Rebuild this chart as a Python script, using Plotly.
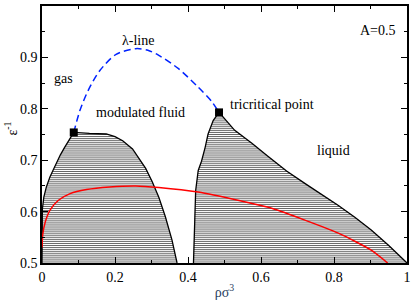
import numpy as np
import plotly.graph_objects as go

# Left (modulated fluid) coexistence region boundary: left branch (y rising) then right branch (y falling)
mod_x = [0.0, 0.0, 0.001, 0.005, 0.012, 0.022, 0.036, 0.050, 0.062, 0.075, 0.087,
         0.13, 0.176, 0.200, 0.221, 0.248, 0.266, 0.284, 0.302, 0.320, 0.338, 0.356, 0.370]
mod_y = [0.5, 0.58, 0.605, 0.628, 0.648, 0.668, 0.690, 0.710, 0.725, 0.740, 0.754,
         0.752, 0.751, 0.746, 0.738, 0.722, 0.703, 0.684, 0.658, 0.628, 0.590, 0.545, 0.5]
mod_top = 10  # index of the apex (end of left branch)

# Right (liquid) coexistence region boundary
liq_x = [0.415, 0.418, 0.421, 0.428, 0.437, 0.447, 0.455, 0.469, 0.485,
         0.528, 0.575, 0.618, 0.670, 0.722, 0.767, 0.812, 0.857, 0.902, 0.950, 1.0]
liq_y = [0.5, 0.590, 0.641, 0.680, 0.698, 0.725, 0.751, 0.777, 0.793,
         0.758, 0.733, 0.708, 0.679, 0.654, 0.633, 0.612, 0.589, 0.564, 0.534, 0.5]
liq_top = 8

# Red curve
red_x = [0.0, 0.002, 0.009, 0.022, 0.045, 0.077, 0.122, 0.185, 0.257, 0.320, 0.428,
         0.537, 0.631, 0.722, 0.812, 0.902, 0.947]
red_y = [0.53, 0.555, 0.580, 0.603, 0.622, 0.635, 0.643, 0.648, 0.650, 0.647, 0.638,
         0.622, 0.606, 0.583, 0.558, 0.525, 0.5]

# Lambda line (blue dashed)
lam_x = [0.087, 0.104, 0.126, 0.158, 0.203, 0.257, 0.290, 0.320, 0.374, 0.428, 0.464, 0.485]
lam_y = [0.754, 0.797, 0.835, 0.874, 0.906, 0.917, 0.914, 0.904, 0.878, 0.842, 0.815, 0.793]

# Special points
pt_x = [0.087, 0.485]
pt_y = [0.754, 0.793]

x_ticks = [0, 0.2, 0.4, 0.6, 0.8, 1.0]
x_ticktext = ["0", "0.2", "0.4", "0.6", "0.8", "1"]
y_ticks = [0.5, 0.6, 0.7, 0.8, 0.9, 1.0]
y_ticktext = ["0.5", "0.6", "0.7", "0.8", "0.9", "1"]

labels = [
    ("gas", 0.058, 0.859),
    ("λ-line", 0.262, 0.932),
    ("modulated fluid", 0.270, 0.793),
    ("tricritical point", 0.629, 0.809),
    ("liquid", 0.799, 0.719),
    ("A=0.5", 0.920, 0.953),
]

FONT = "Liberation Serif"
HATCH_STEP = 0.004  # spacing of the horizontal tie lines (style)


def tie_lines(xs, ys, top):
    lx, ly = xs[:top + 1], ys[:top + 1]
    rx, ry = xs[top:][::-1], ys[top:][::-1]
    ymax = min(max(ly), max(ry))
    hx, hy = [], []
    for lev in np.arange(ys[0] + HATCH_STEP / 2, ymax, HATCH_STEP):
        hx += [float(np.interp(lev, ly, lx)), float(np.interp(lev, ry, rx)), None]
        hy += [float(lev), float(lev), None]
    return hx, hy


fig = go.Figure()

for xs, ys, top in [(mod_x, mod_y, mod_top), (liq_x, liq_y, liq_top)]:
    hx, hy = tie_lines(xs, ys, top)
    fig.add_trace(go.Scatter(x=hx, y=hy, mode="lines", line=dict(color="black", width=0.6),
                             hoverinfo="skip"))
    fig.add_trace(go.Scatter(x=xs, y=ys, mode="lines", line=dict(color="black", width=1.3),
                             hoverinfo="skip"))

fig.add_trace(go.Scatter(x=red_x, y=red_y, mode="lines",
                         line=dict(color="red", width=1.5, shape="spline", smoothing=0.6)))
fig.add_trace(go.Scatter(x=lam_x, y=lam_y, mode="lines",
                         line=dict(color="#0022ff", width=1.5, dash="7px,4px", shape="spline", smoothing=0.8)))
fig.add_trace(go.Scatter(x=pt_x, y=pt_y, mode="markers",
                         marker=dict(symbol="square", size=8, color="black")))

for t, x, y in labels:
    fig.add_annotation(x=x, y=y, text=t, showarrow=False, xanchor="center", yanchor="middle",
                       font=dict(family=FONT, size=14, color="black"))

# y-axis title placed as a rotated annotation for precise position
fig.add_annotation(xref="paper", yref="paper", x=-0.085, y=0.523, text="ε<sup>-1</sup>",
                   textangle=-90, showarrow=False, xanchor="center", yanchor="middle",
                   font=dict(family=FONT, size=14, color="black"))

axis_common = dict(showgrid=False, zeroline=False, showline=True, linecolor="black", linewidth=1.5,
                   mirror="ticks", ticks="inside", ticklen=6, tickwidth=1.2, tickcolor="black",
                   tickfont=dict(family=FONT, size=14, color="black"))

fig.update_xaxes(range=[0, 1], tickvals=x_ticks, ticktext=x_ticktext,
                 minor=dict(ticks="inside", ticklen=3, dtick=0.1, tickcolor="black", tickwidth=1),
                 title=dict(text="ρσ<sup>3</sup>", font=dict(family=FONT, size=14), standoff=4),
                 **axis_common)
fig.update_yaxes(range=[0.5, 1], tickvals=y_ticks, ticktext=y_ticktext,
                 minor=dict(ticks="inside", ticklen=3, dtick=0.05, tickcolor="black", tickwidth=1),
                 **axis_common)

fig.update_layout(width=415, height=302, margin=dict(l=42, r=4, t=5, b=39),
                  paper_bgcolor="white", plot_bgcolor="white", showlegend=False,
                  font=dict(family=FONT))

fig.write_html("out.html", config={"displayModeBar": False},
               post_script="document.body.style.margin='0px';")
